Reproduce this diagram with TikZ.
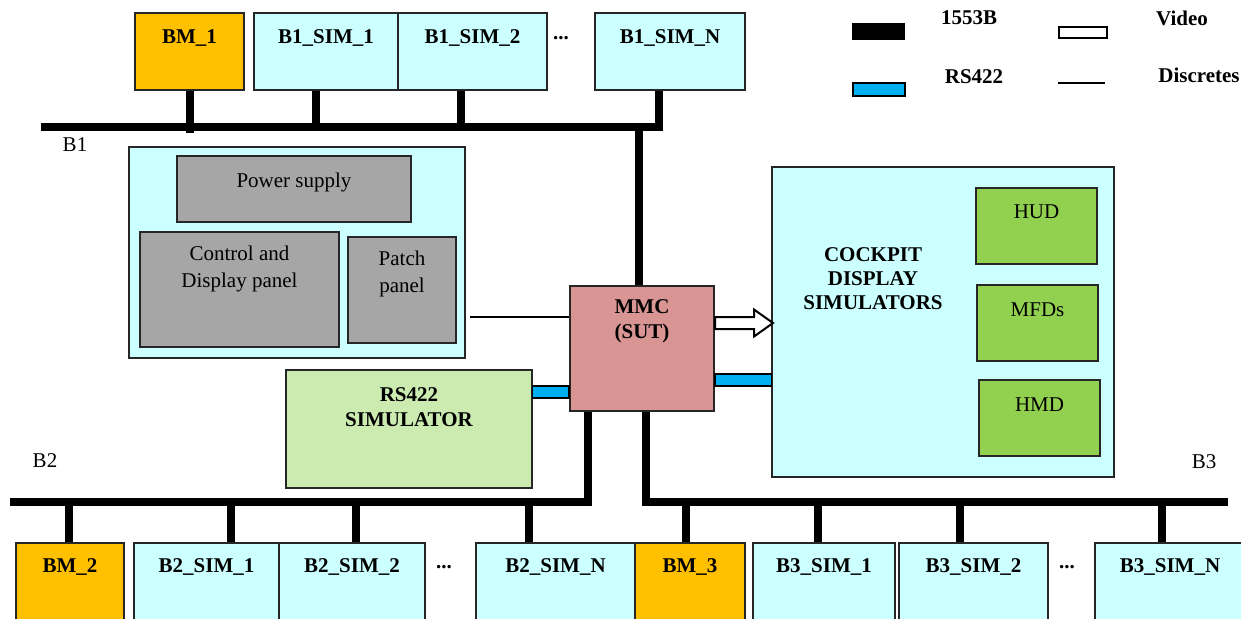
\documentclass[tikz,border=0pt]{standalone}
\usepackage{fontspec}
\setmainfont{Liberation Serif}
\usepackage{tikz}
\usetikzlibrary{positioning}
\usepackage{xcolor}
\definecolor{simcyan}{HTML}{CCFFFF}
\definecolor{bmorange}{HTML}{FFC000}
\definecolor{panelgrey}{HTML}{A6A6A6}
\definecolor{mmcpink}{HTML}{D99594}
\definecolor{rsgreen}{HTML}{CCEBB1}
\definecolor{dispgreen}{HTML}{92D050}
\definecolor{rsblue}{HTML}{00B0F0}

\begin{document}
\begin{tikzpicture}[x=0.5pt,y=-0.5pt,
  every node/.style={font=\fontsize{10.5}{13.5}\selectfont, inner sep=0pt, align=center},
  box/.style={draw=black!85, line width=0.6pt, rectangle},
  simbox/.style={box, fill=simcyan},
  bmbox/.style={box, fill=bmorange},
  greybox/.style={box, fill=panelgrey},
  dispbox/.style={box, fill=dispgreen},
  blbl/.style={font=\fontsize{10.5}{12.5}\selectfont\bfseries},
  bus/.style={line width=4pt},
  rsbus/.style={draw=black, line width=0.7pt, fill=rsblue},
  disc/.style={line width=1pt},
  videoarrow/.style={draw=black, line width=1pt, fill=white, line join=miter}]
\useasboundingbox (0,0) rectangle (1241,618);

% top row (B1)
\node[bmbox, minimum width=54.5pt, minimum height=38.5pt] (bm1) at (189.5,51.5) {};
\node[simbox, minimum width=72pt, minimum height=38.5pt] (b1s1) at (326,51.5) {};
\node[simbox, minimum width=74.5pt, minimum height=38.5pt] (b1s2) at (472.5,51.5) {};
\node[simbox, minimum width=75pt, minimum height=38.5pt] (b1sn) at (670,51.5) {};
\node[blbl] (bm1t) at (189.5,38) {BM\_1};
\node[blbl] (b1s1t) at (326,38) {B1\_SIM\_1};
\node[blbl] (b1s2t) at (472.5,38) {B1\_SIM\_2};
\node[blbl] (b1dots) at (561,38) {...};
\node[blbl] (b1snt) at (670,38) {B1\_SIM\_N};

% legend
\node[fill=black, minimum width=26.5pt, minimum height=8.5pt] (lg1553) at (878.5,31.5) {};
\node[blbl] (lg1553t) at (969,18) {1553B};
\node[rsbus, minimum width=26pt, minimum height=6.5pt] (lgrs) at (879,89.5) {};
\node[blbl] (lgrst) at (974,77) {RS422};
\node[draw=black, line width=1pt, fill=white, minimum width=24pt, minimum height=5.5pt] (lgvid) at (1083,32) {};
\node[blbl] (lgvidt) at (1182,18) {Video};
\coordinate (lgdw) at (1058,83);
\coordinate (lgde) at (1105,83);
\draw[disc] (lgdw) -- (lgde);
\node[blbl] (lgdisct) at (1199,75) {Discretes};

% test rig panel
\node[simbox, minimum width=168pt, minimum height=105.5pt] (panel) at (297,252.5) {};
\node[greybox, minimum width=117pt, minimum height=33pt] (power) at (294,189) {};
\node[greybox, minimum width=99.5pt, minimum height=57.5pt] (ctrl) at (239.5,289.5) {};
\node[greybox, minimum width=54pt, minimum height=53pt] (patch) at (402,290) {};
\node (powert) at (294,182) {Power supply};
\node (ctrlt) at (239.5,268.5) {Control and\\Display panel};
\node (patcht) at (402,273.5) {Patch\\panel};
\node (b1lbl) at (75,145) {B1};

% MMC and simulators
\node[box, fill=mmcpink, line width=1pt, minimum width=72pt, minimum height=62.5pt] (mmc) at (642,348.5) {};
\node[blbl] (mmct) at (642,321.5) {MMC\\(SUT)};
\node[box, fill=rsgreen, minimum width=123pt, minimum height=59pt] (rssim) at (409,429) {};
\node[blbl] (rssimt) at (409,407) {RS422\\SIMULATOR};
\node[simbox, minimum width=171pt, minimum height=155pt] (cockpit) at (943,322) {};
\node[blbl, font=\fontsize{10.5}{12}\selectfont\bfseries] (cockpitt) at (873,279) {COCKPIT\\DISPLAY\\SIMULATORS};
\node[dispbox, minimum width=60.5pt, minimum height=38pt] (hud) at (1036.5,226) {};
\node[dispbox, minimum width=60.5pt, minimum height=38pt] (mfd) at (1037.5,323) {};
\node[dispbox, minimum width=60.5pt, minimum height=38pt] (hmd) at (1039.5,418) {};
\node (hudt) at (1036.5,212) {HUD};
\node (mfdt) at (1037.5,310) {MFDs};
\node (hmdt) at (1039.5,405) {HMD};

% bottom row (B2, B3)
\node[bmbox, minimum width=54pt, minimum height=41pt] (bm2) at (70,584) {};
\node[simbox, minimum width=72.5pt, minimum height=41pt] (b2s1) at (206.5,584) {};
\node[simbox, minimum width=73pt, minimum height=41pt] (b2s2) at (352,584) {};
\node[simbox, minimum width=79.5pt, minimum height=41pt] (b2sn) at (555.5,584) {};
\node[bmbox, minimum width=55pt, minimum height=41pt] (bm3) at (690,584) {};
\node[simbox, minimum width=71pt, minimum height=41pt] (b3s1) at (824,584) {};
\node[simbox, minimum width=74.5pt, minimum height=41pt] (b3s2) at (973.5,584) {};
\node[simbox, minimum width=75pt, minimum height=41pt] (b3sn) at (1170,584) {};
\node[blbl] (bm2t) at (70,567) {BM\_2};
\node[blbl] (b2s1t) at (206.5,567) {B2\_SIM\_1};
\node[blbl] (b2s2t) at (352,567) {B2\_SIM\_2};
\node[blbl] (b2dots) at (444,567) {...};
\node[blbl] (b2snt) at (555.5,567) {B2\_SIM\_N};
\node[blbl] (bm3t) at (690,567) {BM\_3};
\node[blbl] (b3s1t) at (824,567) {B3\_SIM\_1};
\node[blbl] (b3s2t) at (973.5,567) {B3\_SIM\_2};
\node[blbl] (b3dots) at (1067,567) {...};
\node[blbl] (b3snt) at (1170,567) {B3\_SIM\_N};
\node (b2lbl) at (45,461) {B2};
\node (b3lbl) at (1204,462) {B3};

% 1553B buses
\coordinate (b1w) at (41,127);
\coordinate (b2w) at (10,502);
\coordinate (b3e) at (1228,502);
\draw[bus] (b1w) -| ([xshift=-5.5pt]b1sn.south);
\draw[bus] (bm1.south) -- ([yshift=-3pt]bm1.south |- b1w);
\draw[bus] ([xshift=-5pt]b1s1.south) -- ([xshift=-5pt]b1s1.south |- b1w);
\draw[bus] ([xshift=-5.75pt]b1s2.south) -- ([xshift=-5.75pt]b1s2.south |- b1w);
\draw[bus] ([xshift=-1.5pt]mmc.north) -- ([xshift=-1.5pt]mmc.north |- b1w);
\draw[bus] (b2w) -| ([xshift=9.5pt]mmc.south west);
\draw[bus] ([xshift=38.5pt]mmc.south west) |- (b3e);
\draw[bus] ([xshift=-0.5pt]bm2.north) -- ([xshift=-0.5pt]bm2.north |- b2w);
\draw[bus] ([xshift=12.25pt]b2s1.north) -- ([xshift=12.25pt]b2s1.north |- b2w);
\draw[bus] ([xshift=2pt]b2s2.north) -- ([xshift=2pt]b2s2.north |- b2w);
\draw[bus] ([xshift=-13.25pt]b2sn.north) -- ([xshift=-13.25pt]b2sn.north |- b2w);
\draw[bus] ([xshift=-2pt]bm3.north) -- ([xshift=-2pt]bm3.north |- b3e);
\draw[bus] ([xshift=-3pt]b3s1.north) -- ([xshift=-3pt]b3s1.north |- b3e);
\draw[bus] ([xshift=-6.75pt]b3s2.north) -- ([xshift=-6.75pt]b3s2.north |- b3e);
\draw[bus] ([xshift=-4pt]b3sn.north) -- ([xshift=-4pt]b3sn.north |- b3e);

% RS422 links
\draw[rsbus] (rssim.east |- 0,386) rectangle (mmc.west |- 0,398);
\draw[rsbus] (mmc.east |- 0,374) rectangle (cockpit.west |- 0,386);

% discretes and video
\draw[disc, shorten >=2pt] ([yshift=15.75pt]mmc.west) -- ([yshift=15.75pt]mmc.west -| panel.east);
\draw[videoarrow] ([yshift=12.75pt]mmc.east) ++(0,-6) -- ++(39,0) -- ++(0,-7.5)
  -- ++(19,13.5) -- ++(-19,13.5) -- ++(0,-7.5) -- ++(-39,0) -- cycle;
\end{tikzpicture}
\end{document}
